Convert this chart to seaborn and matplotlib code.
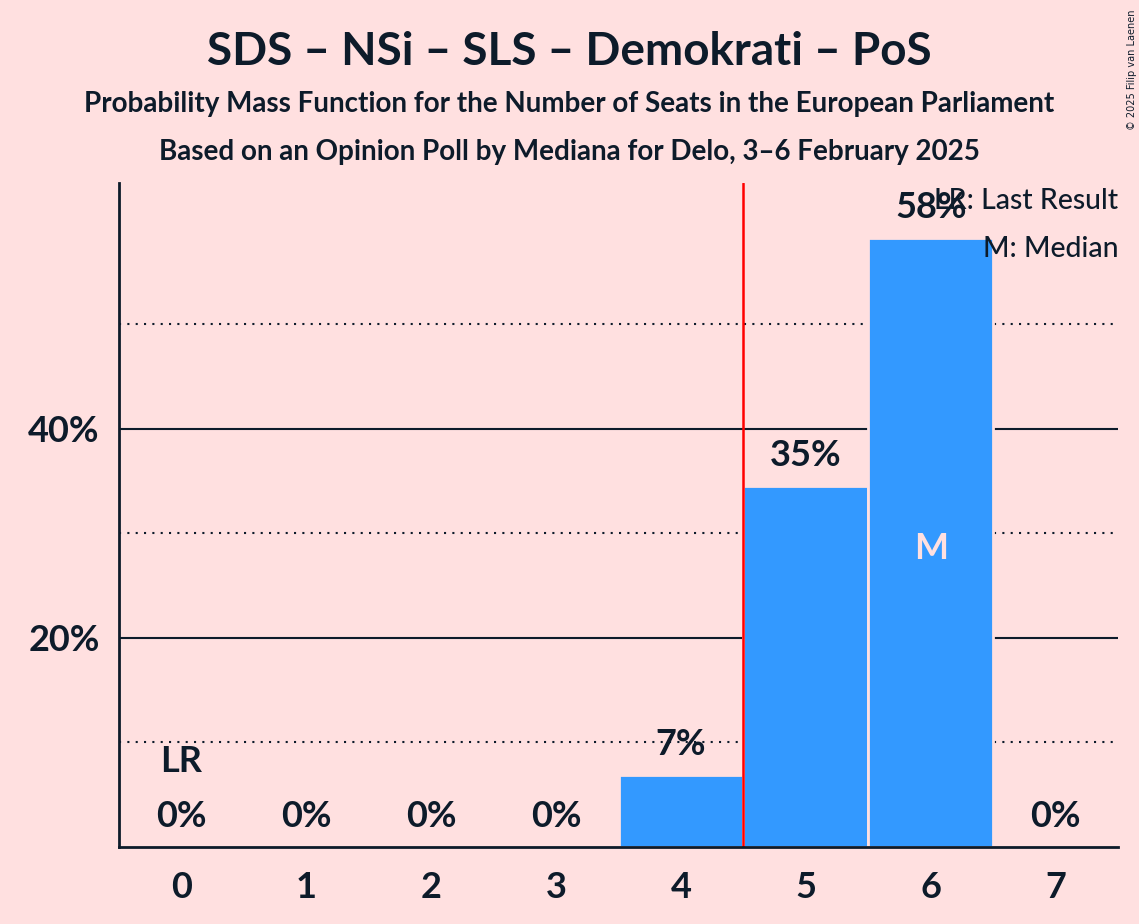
import matplotlib
matplotlib.use("Agg")
import matplotlib.pyplot as plt
import seaborn as sns
import pandas as pd

seats = [0, 1, 2, 3, 4, 5, 6, 7]
probability = [0.0, 0.0, 0.0, 0.0, 6.9, 34.5, 58.2, 0.0]
bar_labels = ["0%", "0%", "0%", "0%", "7%", "35%", "58%", "0%"]
last_result_seat = 0
median_seat = 6
majority_line = 4.5
y_ticks = [20, 40]
y_tick_labels = ["20%", "40%"]
title = "SDS – NSi – SLS – Demokrati – PoS"
subtitle1 = "Probability Mass Function for the Number of Seats in the European Parliament"
subtitle2 = "Based on an Opinion Poll by Mediana for Delo, 3–6 February 2025"

BG = "#FFE0E0"
BAR = "#3399FF"
INK = "#0D1B2A"

sns.set_theme(style="white")
plt.rcParams["font.family"] = ["Lato", "DejaVu Sans"]

fig = plt.figure(figsize=(11.39, 9.24), dpi=100, facecolor=BG)
ax = fig.add_axes([0.1045, 0.0833, 0.8771, 0.7187])
ax.set_facecolor(BG)

df = pd.DataFrame({"seats": seats, "p": probability})
sns.barplot(data=df, x="seats", y="p", order=seats, color=BAR, width=1.0,
            edgecolor=BG, linewidth=2, saturation=1, ax=ax, zorder=3)

ax.set_xlim(-0.5, 7.5)
ax.set_ylim(0, 63.5)

for y in [10, 30, 50]:
    ax.axhline(y, color=INK, lw=1.5, ls=(0, (1, 3)), zorder=1)
for y in [20, 40]:
    ax.axhline(y, color=INK, lw=1.5, zorder=1)

ax.axvline(majority_line, color="#FF0000", lw=1.8, zorder=4)

for s, p, lab in zip(seats, probability, bar_labels):
    ax.annotate(lab, (s, p), xytext=(0, 10), textcoords="offset points",
                ha="center", va="bottom", fontsize=26, fontweight="bold",
                color=INK, zorder=5)

ax.annotate("LR", (last_result_seat, 0), xytext=(0, 50), textcoords="offset points",
            ha="center", va="bottom", fontsize=26, fontweight="bold", color=INK, zorder=5)
ax.annotate("M", (median_seat, probability[median_seat] / 2), xytext=(0, -4),
            textcoords="offset points", ha="center", va="center",
            fontsize=26, fontweight="bold", color=BG, zorder=5)

ax.set_yticks(y_ticks)
ax.set_yticklabels(y_tick_labels)
ax.set_xticks(seats)
ax.set_xticklabels([str(s) for s in seats])
ax.tick_params(axis="y", length=0, labelsize=26, colors=INK, pad=14)
ax.tick_params(axis="x", length=0, labelsize=26, colors=INK, pad=17)
for t in ax.get_xticklabels() + ax.get_yticklabels():
    t.set_fontweight("bold")
ax.set_xlabel("")
ax.set_ylabel("")

for side in ["top", "right"]:
    ax.spines[side].set_visible(False)
for side in ["left", "bottom"]:
    ax.spines[side].set_color(INK)
    ax.spines[side].set_linewidth(2)
    ax.spines[side].set_zorder(6)

fig.text(0.5, 0.944, title, ha="center", va="center", fontsize=33,
         fontweight="bold", color=INK)
fig.text(0.5, 0.887, subtitle1, ha="center", va="center", fontsize=20,
         fontweight="bold", color=INK)
fig.text(0.5, 0.835, subtitle2, ha="center", va="center", fontsize=20,
         fontweight="bold", color=INK)

fig.text(0.9816, 0.783, "LR: Last Result", ha="right", va="center",
         fontsize=20.5, color=INK, fontweight="medium")
fig.text(0.9816, 0.731, "M: Median", ha="right", va="center",
         fontsize=20.5, color=INK, fontweight="medium")

fig.text(0.994, 0.99, "© 2025 Filip van Laenen", ha="center", va="top",
         rotation=90, fontsize=7, color=INK, family=["DejaVu Sans"])

fig.savefig("out.png", dpi=100, facecolor=BG)
